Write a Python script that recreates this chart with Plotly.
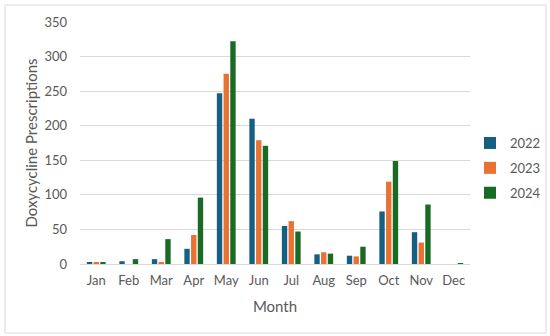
import plotly.graph_objects as go

months = ["Jan", "Feb", "Mar", "Apr", "May", "Jun", "Jul", "Aug", "Sep", "Oct", "Nov", "Dec"]
years = ["2022", "2023", "2024"]
v2022 = [2, 4, 7, 22, 247, 210, 55, 14, 12, 76, 46, 0]
v2023 = [2, 0, 3, 42, 275, 179, 62, 17, 11, 119, 31, 0]
v2024 = [2, 7, 36, 96, 322, 171, 47, 15, 25, 149, 86, 1]
colors = ["#156082", "#E97132", "#196B24"]
yticks = [0, 50, 100, 150, 200, 250, 300, 350]

fig = go.Figure()
for name, vals, c in zip(years, [v2022, v2023, v2024], colors):
    fig.add_trace(go.Bar(x=months, y=vals, name=name, legendgroup=name,
                         marker=dict(color=c, line=dict(width=0))))

W, H = 550, 336
L, R, T, B = 80, 80, 22, 72
pw, ph = W - L - R, H - T - B

def px(x):
    return (x - L) / pw

def py(y):
    return (H - B - y) / ph

font = "Lato, Noto Sans, sans-serif"
fig.update_layout(
    width=W, height=H,
    margin=dict(l=L, r=R, t=T, b=B, pad=0, autoexpand=False),
    paper_bgcolor="white", plot_bgcolor="white",
    barmode="group", bargap=0.38, bargroupgap=0.2,
    font=dict(family=font, color="#595959", size=13),
    xaxis=dict(title=dict(text="Month", font=dict(size=15, color="#595959"), standoff=14),
               showline=True, linecolor="#d9d9d9", linewidth=1, ticks="", ticklabelstandoff=4,
               tickfont=dict(size=13, color="#595959"), showgrid=False, automargin=False),
    yaxis=dict(title=dict(text="Doxycycline Prescriptions", font=dict(size=15, color="#595959"), standoff=3),
               range=[0, 350], tickvals=yticks, showgrid=True, gridcolor="#d9d9d9", gridwidth=1,
               zeroline=False, showline=False, ticks="", ticklabelstandoff=12,
               tickfont=dict(size=13, color="#595959"), automargin=False),
    legend=dict(x=px(470), y=py(168), xanchor="left", yanchor="middle",
                font=dict(size=13, color="#595959"), itemwidth=30, tracegroupgap=5, bgcolor="rgba(0,0,0,0)"),
    showlegend=True,
)
fig.add_shape(type="rect", xref="paper", yref="paper",
              x0=px(5), x1=px(546), y0=py(333), y1=py(5),
              line=dict(color="#d9d9d9", width=1), fillcolor="rgba(0,0,0,0)", layer="below")

fig.write_html("out.html", config={"displayModeBar": False},
               post_script="document.body.style.margin='0';document.body.style.padding='0';")
